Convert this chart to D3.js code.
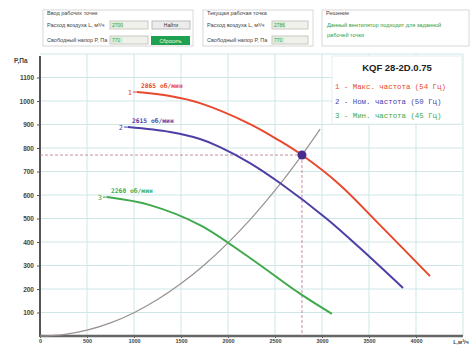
<!DOCTYPE html>
<html><head><meta charset="utf-8">
<script src="https://cdn.jsdelivr.net/npm/d3@7"></script>
<style>body{margin:0;background:#fff}svg{display:block}</style>
</head><body>
<script>
// ---- data ----
const xTicks = [0,500,1000,1500,2000,2500,3000,3500,4000];
const yTicks = [100,200,300,400,500,600,700,800,900,1000,1100];
const curveNames = ["1","2","3"];
const rpmLabels = ["2865 об/мин","2615 об/мин","2260 об/мин"];
const legendLabels = ["1 - Макс. частота (54 Гц)","2 - Ном. частота (50 Гц)","3 - Мин. частота (45 Гц)"];
const curve1 = [[1032,1038],[1383,1021],[1702,991],[2234,902],[2553,830],[2787,770],[3191,643],[3617,472],[4149,255]];
const curve2 = [[936,889],[1383,868],[1702,838],[1915,804],[2234,736],[2553,651],[3053,498],[3404,374],[3862,204]];
const curve3 = [[713,591],[1170,557],[1702,472],[2234,332],[2766,180],[3106,94]];
const systemL = [0,250,500,750,1000,1250,1500,1750,2000,2250,2500,2750,2980];
const systemK = 0.0000991;
const workPoint = [2787,770];
const title = "KQF 28-2D.0.75";

const W=473,H=345;
const svg=d3.select("body").append("svg").attr("width",W).attr("height",H);
const x=d3.scaleLinear([0,4500],[40,463]);
const y=d3.scaleLinear([0,1200],[336,54]);
const colors=["#e8492e","#4d3fa6","#3fa94c"];

// grid
const g=svg.append("g");
g.selectAll(".vg").data([500,1000,1500,2000,2500,3000,3500,4000,4500]).enter().append("line")
 .attr("x1",d=>x(d)).attr("x2",d=>x(d)).attr("y1",y(0)).attr("y2",y(1200))
 .attr("stroke","#cfe6e6").attr("stroke-width",1);
g.selectAll(".hg").data(yTicks.concat([1200])).enter().append("line")
 .attr("x1",x(0)).attr("x2",x(4500)).attr("y1",d=>y(d)).attr("y2",d=>y(d))
 .attr("stroke","#cfe6e6").attr("stroke-width",1);

// axes
const ya=svg.append("g").attr("transform",`translate(${x(0)},0)`)
 .call(d3.axisLeft(y).tickValues(yTicks).tickSize(3).tickPadding(3).tickFormat(d3.format("d")));
ya.select(".domain").remove();
ya.selectAll("text").attr("font-family","Arial, Liberation Sans").attr("font-size",6.5).attr("font-weight","bold").attr("fill","#444");
ya.selectAll("line").attr("stroke","#555");
const xa=svg.append("g").attr("transform",`translate(0,${y(0)})`)
 .call(d3.axisBottom(x).tickValues(xTicks).tickSize(2).tickPadding(1).tickFormat(d3.format("d")));
xa.select(".domain").remove();
xa.selectAll("text").attr("font-family","Arial, Liberation Sans").attr("font-size",5.5).attr("font-weight","bold").attr("fill","#444");
xa.selectAll("line").attr("stroke","#555");
svg.append("line").attr("x1",x(0)).attr("x2",x(0)).attr("y1",y(1200)+2).attr("y2",y(0)+1).attr("stroke","#555").attr("stroke-width",2);
svg.append("line").attr("x1",x(0)).attr("x2",x(4500)).attr("y1",y(0)).attr("y2",y(0)).attr("stroke","#666").attr("stroke-width",2.5);
svg.append("text").attr("x",14).attr("y",63).text("P,Па").attr("font-family","Arial").attr("font-size",6.5).attr("font-weight","bold").attr("fill","#444");
svg.append("text").attr("x",x(4500)-2).attr("y",344).attr("text-anchor","middle").text("L,м³/ч").attr("font-family","Arial").attr("font-size",5.5).attr("font-weight","bold").attr("fill","#444");

// crosshair
svg.append("line").attr("x1",x(0)).attr("x2",x(workPoint[0])).attr("y1",y(workPoint[1])).attr("y2",y(workPoint[1]))
 .attr("stroke","#b5708f").attr("stroke-width",0.8).attr("stroke-dasharray","3,2");
svg.append("line").attr("x1",x(workPoint[0])).attr("x2",x(workPoint[0])).attr("y1",y(workPoint[1])).attr("y2",y(0))
 .attr("stroke","#b5708f").attr("stroke-width",0.8).attr("stroke-dasharray","3,2");

// system curve
const line=d3.line().x(d=>x(d[0])).y(d=>y(d[1])).curve(d3.curveCatmullRom.alpha(0.5));
svg.append("path").attr("d",line(systemL.map(L=>[L,systemK*L*L]))).attr("fill","none").attr("stroke","#9a9090").attr("stroke-width",1.2);

// fan curves
const curves=[curve1,curve2,curve3];
curves.forEach((c,i)=>{
  svg.append("path").attr("d",line(c)).attr("fill","none").attr("stroke",colors[i]).attr("stroke-width",2);
  svg.append("line").attr("x1",x(c[0][0])-4).attr("x2",x(c[0][0])).attr("y1",y(c[0][1])).attr("y2",y(c[0][1])).attr("stroke",colors[i]).attr("stroke-width",1);
  svg.append("text").attr("x",x(c[0][0])-5).attr("y",y(c[0][1])+2.5).attr("text-anchor","end").text(curveNames[i])
   .attr("font-family","DejaVu Sans Mono").attr("font-size",7).attr("fill",colors[i]);
  svg.append("text").attr("x",x(c[0][0])+4).attr("y",y(c[0][1])-4).text(rpmLabels[i])
   .attr("font-family","DejaVu Sans Mono").attr("font-size",6.3).attr("font-weight","bold").attr("fill",colors[i]);
});

// operating point
svg.append("circle").attr("cx",x(workPoint[0])).attr("cy",y(workPoint[1])).attr("r",4.5).attr("fill","#4a2c8c");

// legend
const lg=svg.append("g");
lg.append("rect").attr("x",332).attr("y",56).attr("width",130).attr("height",68).attr("fill","#fff").attr("stroke","#e4eeee");
lg.append("text").attr("x",397).attr("y",71).attr("text-anchor","middle").text(title)
 .attr("font-family","Arial, Liberation Sans").attr("font-size",9.5).attr("font-weight","bold").attr("fill","#222");
legendLabels.forEach((t,i)=>{
  lg.append("text").attr("x",335).attr("y",89+i*14.5).text(t)
   .attr("font-family","Liberation Mono, DejaVu Sans Mono").attr("font-size",7.4).attr("fill",colors[i]);
});

// header panels
const hf="Arial, Liberation Sans";
function box(x0,y0,w,h,t){
  svg.append("rect").attr("x",x0).attr("y",y0).attr("width",w).attr("height",h).attr("fill","#fff").attr("stroke","#d8d8d8");
  svg.append("text").attr("x",x0+4).attr("y",y0+5).text(t).attr("font-family",hf).attr("font-size",5.5).attr("fill","#444");
}
function input(x0,y0,w,v){
  svg.append("rect").attr("x",x0).attr("y",y0).attr("width",w).attr("height",8).attr("fill","#f1f1ec").attr("stroke","#c8c8c0");
  svg.append("rect").attr("x",x0+1).attr("y",y0+1).attr("width",12).attr("height",6).attr("fill","#d9efd9");
  svg.append("text").attr("x",x0+2).attr("y",y0+6).text(v).attr("font-family",hf).attr("font-size",5).attr("fill","#3a9a4a");
}
function lbl(x0,y0,t){svg.append("text").attr("x",x0).attr("y",y0).text(t).attr("font-family",hf).attr("font-size",5.5).attr("fill","#444");}
box(43,10,150,36,"Ввод рабочих точек");
lbl(47,27,"Расход воздуха L, м³/ч"); input(110,21,38,"2700");
lbl(47,42,"Свободный напор Р, Па"); input(110,36,38,"770");
svg.append("rect").attr("x",152).attr("y",21).attr("width",38).attr("height",8).attr("fill","#ececec").attr("stroke","#bbb");
svg.append("text").attr("x",171).attr("y",27).attr("text-anchor","middle").text("Найти").attr("font-family",hf).attr("font-size",5).attr("fill","#333");
svg.append("rect").attr("x",151).attr("y",36).attr("width",39).attr("height",9).attr("fill","#1fa152");
svg.append("text").attr("x",170.5).attr("y",42.5).attr("text-anchor","middle").text("Сбросить").attr("font-family",hf).attr("font-size",5).attr("fill","#e8ffe8");
box(203,10,110,36,"Текущая рабочая точка");
lbl(207,27,"Расход воздуха L, м³/ч"); input(272,21,36,"2786");
lbl(207,42,"Свободный напор Р, Па"); input(272,36,36,"770");
box(322,10,147,36,"Решение");
svg.append("text").attr("x",327).attr("y",27).text("Данный вентилятор подходит для заданной").attr("font-family",hf).attr("font-size",5.6).attr("fill","#2aa048");
svg.append("text").attr("x",327).attr("y",37).text("рабочей точки").attr("font-family",hf).attr("font-size",5.6).attr("fill","#2aa048");
</script>
</body></html>
